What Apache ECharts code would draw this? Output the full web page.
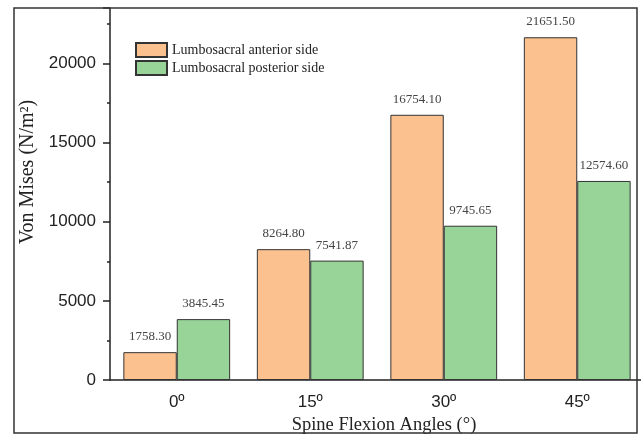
<!DOCTYPE html>
<html><head><meta charset="utf-8">
<script src="https://cdn.jsdelivr.net/npm/echarts@6/dist/echarts.min.js"></script>
<style>html,body{margin:0;padding:0;background:#fff}#c{width:641px;height:436px}</style>
</head><body><div id="c"></div>
<script>
const categories = ['0º', '15º', '30º', '45º'];
const anterior = [1758.30, 8264.80, 16754.10, 21651.50];
const posterior = [3845.45, 7541.87, 9745.65, 12574.60];
const seriesNames = ['Lumbosacral anterior side', 'Lumbosacral posterior side'];
const yTicks = [0, 5000, 10000, 15000, 20000];

const chart = echarts.init(document.getElementById('c'));
const serif = '"Liberation Serif", "DejaVu Serif", serif';
const sans = '"Liberation Sans", Arial, sans-serif';
const labelCfg = {
  show: true, position: 'top', distance: 9,
  fontFamily: serif, fontSize: 13, color: '#444',
  formatter: p => p.value.toFixed(2)
};
chart.setOption({
  animation: false,
  grid: { left: 110, right: -3, top: 8, bottom: 56, containLabel: false, outerBoundsMode: 'none' },
  legend: {
    orient: 'vertical', left: 135, top: 42, padding: 0, itemWidth: 31, itemHeight: 14, itemGap: 2,
    icon: 'rect',
    textStyle: { fontFamily: serif, fontSize: 14, color: '#222', lineHeight: 15 },
    data: seriesNames
  },
  xAxis: [{
    type: 'category', data: categories,
    axisLine: { lineStyle: { color: '#222', width: 1.5 } },
    axisTick: { alignWithLabel: true, length: 8, lineStyle: { color: '#222', width: 1.5 } },
    axisLabel: { fontFamily: sans, fontSize: 17, color: '#222', margin: 14 },
    name: 'Spine Flexion Angles (°)', nameLocation: 'middle', nameGap: 35,
    nameTextStyle: { fontFamily: serif, fontSize: 18.5, color: '#222', padding: [0, 0, 0, 14] }
  }, {
    type: 'category', data: categories, position: 'bottom',
    axisLine: { show: false },
    axisTick: { length: 4, lineStyle: { color: '#222', width: 1.5 } },
    axisLabel: { show: false }
  }],
  yAxis: {
    type: 'value', min: 0, max: 23500, interval: 5000,
    axisLine: { show: true, lineStyle: { color: '#222', width: 1.5 } },
    axisTick: { show: true, length: 7, lineStyle: { color: '#222', width: 1.5 } },
    minorTick: { show: true, splitNumber: 2, length: 3, lineStyle: { color: '#222', width: 1.5 } },
    splitLine: { show: false },
    axisLabel: {
      fontFamily: sans, fontSize: 17, color: '#222', margin: 14, showMaxLabel: false,
      formatter: v => yTicks.includes(v) ? String(v) : ''
    },
    name: 'Von Mises (N/m²)', nameLocation: 'middle', nameGap: 70,
    nameTextStyle: { fontFamily: serif, fontSize: 20, color: '#222', padding: [0, 0, 0, 44] }
  },
  series: [{
    name: seriesNames[0], type: 'bar', data: anterior, barGap: '0%', barCategoryGap: '20%',
    itemStyle: { color: '#FBC18F', borderColor: '#333', borderWidth: 1 },
    label: labelCfg
  }, {
    name: seriesNames[1], type: 'bar', data: posterior, barGap: '0%', barCategoryGap: '20%',
    itemStyle: { color: '#98D498', borderColor: '#333', borderWidth: 1 },
    label: labelCfg
  }],
  graphic: [{
    type: 'rect', shape: { x: 14, y: 8, width: 623, height: 425 },
    style: { fill: 'none', stroke: '#333', lineWidth: 1.5 }, silent: true, z: 100
  }]
});
</script></body></html>
